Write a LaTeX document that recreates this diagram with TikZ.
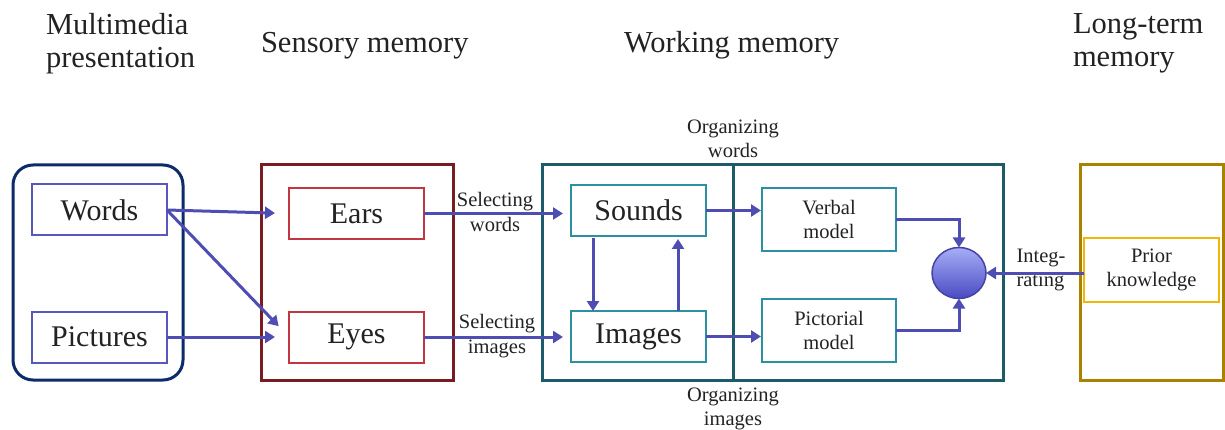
\documentclass[tikz,border=0pt]{standalone}
\usepackage{fontspec}
\setmainfont{Liberation Serif}
\usetikzlibrary{arrows.meta,shapes.geometric,calc}

\definecolor{ink}{HTML}{222222}
\definecolor{navy}{HTML}{0D2B6B}
\definecolor{srcblue}{HTML}{5757BE}
\definecolor{flow}{HTML}{4E4EB2}
\definecolor{maroon}{HTML}{7A1B22}
\definecolor{sensred}{HTML}{C2373F}
\definecolor{darkteal}{HTML}{1C5C68}
\definecolor{wmteal}{HTML}{2A90A2}
\definecolor{gold}{HTML}{A98200}
\definecolor{amber}{HTML}{F2B700}
\definecolor{orbtop}{HTML}{A6AEF6}
\definecolor{orbbottom}{HTML}{4A4AC2}
\definecolor{orbedge}{HTML}{4343A6}

\begin{document}
\begin{tikzpicture}[x=1pt,y=-1pt,
  every node/.style={text=ink, inner sep=0pt, outer sep=0pt},
  heading/.style={font=\fontsize{30.5}{33}\selectfont, align=left, anchor=base west},
  smalltext/.style={font=\fontsize{20.5}{24.5}\selectfont, align=center},
  stage/.style={draw, line width=3pt, minimum width=#1, minimum height=215pt},
  itembox/.style={draw, line width=2pt, minimum width=135pt, minimum height=51pt,
    font=\fontsize{30}{33}\selectfont},
  modelbox/.style={draw=wmteal, line width=2pt, minimum width=134pt, minimum height=63pt,
    font=\fontsize{20.5}{24}\selectfont, align=center},
  flowarrow/.style={draw=flow, line width=3pt,
    -{Triangle[length=10pt,width=12pt]}},
]
\useasboundingbox (0,0) rectangle (1225,430);

% stage headings (base anchor sits on the last line)
\node[heading] (hmm) at (46,68) {Multimedia\\presentation};
\node[heading] (hsm) at (261,53) {Sensory memory};
\node[heading] (hwm) at (624,53) {Working memory};
\node[heading] (hltm) at (1073,67) {Long-term\\memory};

% stage frames
\node[stage=170pt, draw=navy, rounded corners=20pt] (mm) at (98,272.5) {};
\node[stage=192pt, draw=maroon] (sens) at (357,272.5) {};
\node[stage=461pt, draw=darkteal] (wm) at (772.5,272.5) {};
\node[stage=143pt, draw=gold] (ltm) at (1151.5,272.5) {};
\draw[darkteal, line width=3pt] ($(wm.north west)+(191,0)$) -- ($(wm.south west)+(191,0)$);

% boxes inside the stages
\node[itembox, draw=srcblue] (words) at (99.5,210) {Words};
\node[itembox, draw=srcblue] (pictures) at (99.5,337) {Pictures};
\node[itembox, draw=sensred] (ears) at (356.5,213.5) {Ears};
\node[itembox, draw=sensred] (eyes) at (356.5,337) {Eyes};
\node[itembox, draw=wmteal] (sounds) at (638.5,210.5) {Sounds};
\node[itembox, draw=wmteal] (images) at (638.5,336.5) {Images};
\node[modelbox] (verbal) at (829,219.5) {Verbal\\model};
\node[modelbox] (pictorial) at (829,330.5) {Pictorial\\model};
\node[draw=amber, line width=2pt, minimum width=135pt, minimum height=64pt,
  font=\fontsize{20.5}{24}\selectfont, align=center] (prior) at (1151.5,270) {Prior\\knowledge};
\node[ellipse, draw=orbedge, line width=1.5pt, top color=orbtop, bottom color=orbbottom,
  minimum width=54pt, minimum height=51pt] (orb) at (959,273) {};

% process labels
\node[smalltext] (selw) at (495,212) {Selecting\\words};
\node[smalltext] (seli) at (497,336) {Selecting\\images};
\node[smalltext] (orgw) at (733,139) {Organizing\\words};
\node[smalltext] (orgi) at (733,409) {Organizing\\images};
\node[smalltext, align=left] (integ) at (1041,270) {Integ-\\rating};

% flows
\draw[flowarrow, shorten >=14pt] (words.east) -- (ears.west);
\draw[flowarrow, shorten >=15pt] (words.east) -- (eyes.west);
\draw[flowarrow, shorten >=14pt] (pictures.east) -- (eyes.west);
\draw[flowarrow, shorten >=8pt] (ears.east) -- (ears.east -| sounds.west);
\draw[flowarrow, shorten >=8pt] (eyes.east) -- (eyes.east -| images.west);
\draw[flowarrow, shorten <=2pt] ([xshift=22pt]sounds.south west) -- ([xshift=22pt]images.north west);
\draw[flowarrow, shorten >=3pt] ([xshift=-28pt]images.north east) -- ([xshift=-28pt]sounds.south east);
\draw[flowarrow, shorten >=1pt] (sounds.east) -- (sounds.east -| verbal.west);
\draw[flowarrow, shorten >=1pt] (images.east) -- (images.east -| pictorial.west);
\draw[flowarrow] (verbal.east) -| (orb.north);
\draw[flowarrow] (pictorial.east) -| (orb.south);
\draw[flowarrow] (prior.west |- orb.east) -- (orb.east);
\end{tikzpicture}
\end{document}
